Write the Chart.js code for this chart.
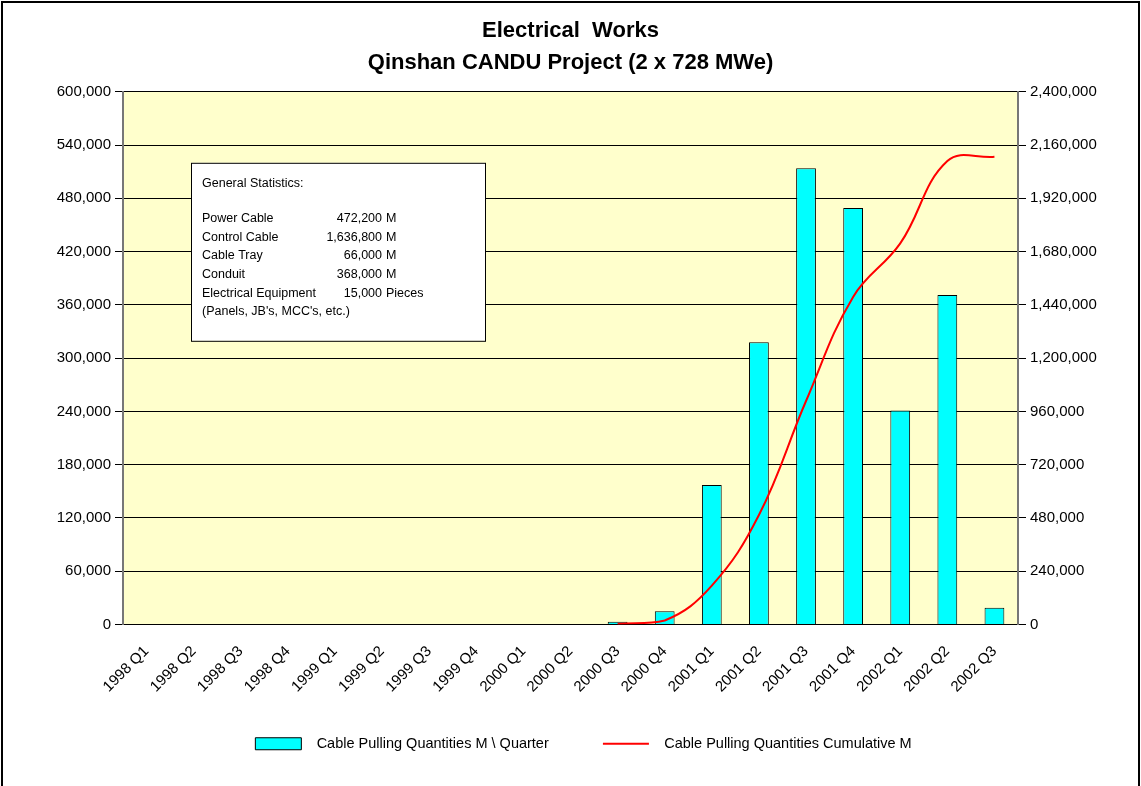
<!DOCTYPE html>
<html>
<head>
<meta charset="utf-8">
<script src="https://cdn.jsdelivr.net/npm/chart.js@4"></script>
<style>
    html, body { margin: 0; padding: 0; background: #fff; }
    #wrap { width: 1141px; height: 786px; }
</style>
</head>
<body>
<div id="wrap"><canvas id="graphCanvas" width="1141" height="786"></canvas></div>
<script>
const QUARTERS = [
    "1998 Q1", "1998 Q2", "1998 Q3", "1998 Q4",
    "1999 Q1", "1999 Q2", "1999 Q3", "1999 Q4",
    "2000 Q1", "2000 Q2", "2000 Q3", "2000 Q4",
    "2001 Q1", "2001 Q2", "2001 Q3", "2001 Q4",
    "2002 Q1", "2002 Q2", "2002 Q3"
];

// quantities pulled each quarter (M)
const perQuarter = [
    0, 0, 0, 0, 0, 0, 0, 0, 0, 0,
    3000, 15000, 157000, 318000, 514000, 469000, 241000, 371000, 19000
];

// running total (M)
const cumulative = [
    null, null, null, null, null, null, null, null, null, null,
    3000, 18000, 175000, 493000, 1007000, 1476000, 1717000, 2088000, 2107000
];

const TITLE = ["Electrical  Works", "Qinshan CANDU Project (2 x 728 MWe)"];

const statLabels = ["Power Cable", "Control Cable", "Cable Tray", "Conduit", "Electrical Equipment"];
const statNumbers = ["472,200", "1,636,800", "66,000", "368,000", "15,000"];
const statUnits = ["M", "M", "M", "M", "Pieces"];

const FONT = "'Liberation Sans', Arial, sans-serif";
const PLOT_BG = "#FFFFCC";

Chart.defaults.font.family = FONT;
Chart.defaults.color = "#000";

const fmt = v => Number(v).toLocaleString('en-US');

// yellow plot area, outer frame and the statistics note
const decorations = {
    id: 'decorations',
    afterLayout(chart) {
        // legend in the original sits a bit right of centre
        if (chart.legend) chart.legend.left += 26;
    },
    beforeDraw(chart) {
        const c = chart.ctx;
        const a = chart.chartArea;
        c.save();
        c.fillStyle = '#fff';
        c.fillRect(0, 0, chart.width, chart.height);
        c.fillStyle = PLOT_BG;
        c.fillRect(a.left, a.top, a.right - a.left, a.bottom - a.top);
        c.restore();
    },
    afterDraw(chart) {
        const c = chart.ctx;
        const a = chart.chartArea;
        c.save();
        c.strokeStyle = '#000';
        c.lineWidth = 2;
        c.strokeRect(2, 2, chart.width - 4, chart.height + 10);

        const bx = a.left + 68, by = a.top + 71, bw = 294, bh = 178;
        c.fillStyle = '#fff';
        c.fillRect(bx, by, bw, bh);
        c.lineWidth = 1;
        c.strokeStyle = '#000';
        c.strokeRect(bx + 0.5, by + 0.5, bw, bh);

        c.fillStyle = '#000';
        c.font = "12.5px " + FONT;
        c.textBaseline = 'middle';
        c.textAlign = 'left';
        c.fillText("General Statistics:", bx + 11, by + 21);
        for (let i = 0; i < statLabels.length; i++) {
            const y = by + 56 + i * 18.6;
            c.textAlign = 'left';
            c.fillText(statLabels[i], bx + 11, y);
            c.textAlign = 'right';
            c.fillText(statNumbers[i], bx + 191, y);
            c.textAlign = 'left';
            c.fillText(statUnits[i], bx + 195, y);
        }
        c.fillText("(Panels, JB's, MCC's, etc.)", bx + 11, by + 149);
        c.restore();
    }
};

const ctx = document.getElementById('graphCanvas');
const defaultLabels = Chart.defaults.plugins.legend.labels.generateLabels;

new Chart(ctx, {
    data: {
        labels: QUARTERS,
        datasets: [
            {
                type: 'bar',
                label: "Cable Pulling Quantities M \\ Quarter",
                data: perQuarter,
                backgroundColor: "#00FFFF",
                borderColor: "#000",
                borderWidth: 1,
                barPercentage: 0.42,
                categoryPercentage: 1,
                yAxisID: 'y',
                order: 2,
                pointStyle: 'rect'
            },
            {
                type: 'line',
                label: "Cable Pulling Quantities Cumulative M",
                data: cumulative,
                borderColor: "#FF0000",
                backgroundColor: "#FF0000",
                borderWidth: 2,
                tension: 0.4,
                pointRadius: 0,
                fill: false,
                yAxisID: 'y2',
                order: 1,
                pointStyle: 'line'
            }
        ]
    },
    options: {
        responsive: false,
        animation: false,
        devicePixelRatio: 1,
        layout: { padding: { top: 0, left: 0, right: 0, bottom: 25 } },
        scales: {
            x: {
                offset: true,
                grid: { display: false },
                border: { color: '#000', width: 1 },
                ticks: {
                    minRotation: 45,
                    maxRotation: 45,
                    autoSkip: false,
                    padding: 10,
                    font: { size: 15 },
                    color: '#000'
                },
                afterFit(scale) { scale.height = 82; }
            },
            y: {
                position: 'left',
                min: 0,
                max: 600000,
                ticks: {
                    stepSize: 60000,
                    font: { size: 15 },
                    color: '#000',
                    padding: 4,
                    callback: v => fmt(v)
                },
                grid: { color: '#000', lineWidth: 1, tickLength: 8 },
                border: { color: '#777', width: 2 },
                afterFit(scale) { scale.width = 123; }
            },
            y2: {
                position: 'right',
                min: 0,
                max: 2400000,
                ticks: {
                    stepSize: 240000,
                    font: { size: 15 },
                    color: '#000',
                    padding: 4,
                    callback: v => fmt(v)
                },
                grid: { drawOnChartArea: false, color: '#000', tickLength: 8 },
                border: { color: '#777', width: 2 },
                afterFit(scale) { scale.width = 123; }
            }
        },
        plugins: {
            title: {
                display: true,
                text: TITLE,
                color: '#000',
                font: { size: 22, weight: 'bold', lineHeight: 1.45 },
                padding: { top: 15, bottom: 13 }
            },
            legend: {
                position: 'bottom',
                labels: {
                    usePointStyle: true,
                    pointStyleWidth: 46,
                    boxHeight: 12,
                    padding: 30,
                    font: { size: 14.5 },
                    color: '#000',
                    sort: (a, b) => a.datasetIndex - b.datasetIndex,
                    // wider gaps, like the original legend
                    generateLabels: chart => defaultLabels(chart).map(l => ({
                        ...l,
                        text: '  ' + l.text + (l.datasetIndex === 0 ? '      ' : '')
                    }))
                }
            },
            tooltip: { enabled: false }
        }
    },
    plugins: [decorations]
});
</script>
</body>
</html>
